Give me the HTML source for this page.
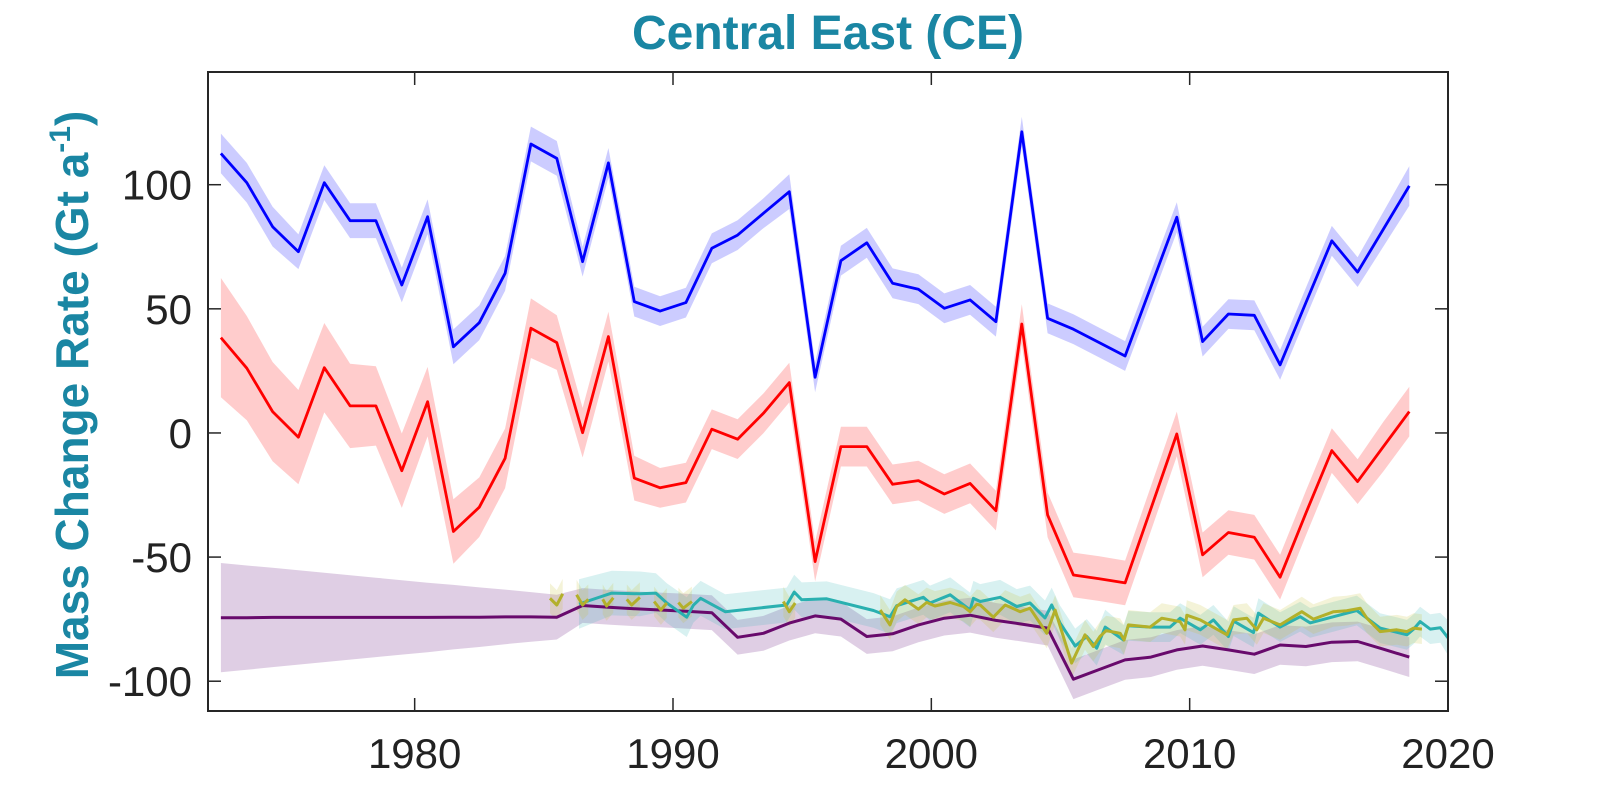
<!DOCTYPE html>
<html><head><meta charset="utf-8">
<style>
html,body{margin:0;padding:0;background:#fff;}
svg{display:block;font-family:"Liberation Sans",Arial,sans-serif;}
</style></head>
<body>
<svg id="chart" width="1600" height="800" viewBox="0 0 1600 800" xmlns="http://www.w3.org/2000/svg">
<rect x="0" y="0" width="1600" height="800" fill="#fff"/>
<text x="828" y="49" text-anchor="middle" font-size="48" font-weight="bold" fill="#1a86a3">Central East (CE)</text>
<text transform="translate(88,395) rotate(-90)" text-anchor="middle" font-size="46" font-weight="bold" fill="#1a86a3">Mass Change Rate (Gt a<tspan font-size="30" dy="-18">-1</tspan><tspan dy="18">)</tspan></text>
<g id="plot"></g>
<g id="axes"></g>
</svg>
<script>
const xTicks = [1980, 1990, 2000, 2010, 2020];
const yTicks = [100, 50, 0, -50, -100];
const annualYears = [1972.5,1973.5,1974.5,1975.5,1976.5,1977.5,1978.5,1979.5,1980.5,1981.5,1982.5,1983.5,1984.5,1985.5,1986.5,1987.5,1988.5,1989.5,1990.5,1991.5,1992.5,1993.5,1994.5,1995.5,1996.5,1997.5,1998.5,1999.5,2000.5,2001.5,2002.5,2003.5,2004.5,2005.5,2006.5,2007.5,2008.5,2009.5,2010.5,2011.5,2012.5,2013.5,2014.5,2015.5,2016.5,2017.5,2018.5];
const blueValues = [112.6,100.8,83.1,73.0,100.8,85.5,85.5,59.6,87.1,34.7,44.4,64.3,116.4,110.6,69.0,108.8,52.9,49.1,52.5,74.4,79.7,88.5,97.2,22.4,69.4,76.6,60.3,57.9,50.2,53.6,44.8,121.3,46.2,41.8,36.4,31.0,58.9,86.9,36.8,47.9,47.4,27.4,52.5,77.4,64.8,82.1,99.5];
const blueErr = [8,8,8,7,7,7,7,7,7,7,7,7,7,7,6,6,6,6,6,6,6,6,7,6,6,6,6,6,6,6,6,6,6,6,6,6,6,6,6,6,6,6,6,6,6,7,8];
const redValues = [38.4,26.1,8.6,-1.7,26.3,10.9,10.9,-15.2,12.6,-39.7,-29.9,-10.2,42.2,36.4,0.1,38.8,-18.2,-22.1,-20.0,1.5,-2.5,7.9,20.3,-51.8,-5.5,-5.5,-20.7,-19.2,-24.6,-20.3,-31.3,43.9,-33.0,-57.2,-58.7,-60.4,-30.5,-0.4,-49.1,-40.1,-42.0,-58.1,-32.3,-7.1,-19.6,-5.5,8.6];
const redErr = [24,21,20,19,18,17,16,15,14,13,12,12,12,11,10,10,9,8,8,8,8,8,8,8,8,8,8,8,8,8,8,8,9,9,9,9,9,9,9,9,9,9,9,9,9,10,10];
const purpleValues = [-74.4,-74.4,-74.3,-74.3,-74.3,-74.3,-74.3,-74.3,-74.3,-74.2,-74.2,-74.1,-74.1,-74.2,-69.5,-70.2,-70.8,-71.3,-71.8,-72.4,-82.3,-80.7,-76.6,-73.7,-75.0,-82.0,-80.9,-77.3,-74.6,-73.4,-75.5,-77.0,-78.6,-99.2,-95.3,-91.4,-90.3,-87.4,-85.8,-87.4,-89.1,-85.4,-86.0,-84.3,-84.0,-87.1,-90.3];
const purpleErr = [22,21,20,19,18,17,16,15,14,13,12,11,10,9,7,7,7,7,7,7,7,7,7,7,7,7,7,7,7,7,7,7,7,8,8,8,8,8,8,8,8,8,8,8,8,8,8];
const cyanYears = [1986.36,1987.63,1988.72,1989.34,1989.76,1990.53,1990.79,1991.07,1992.02,1994.40,1994.69,1994.98,1995.95,1997.76,1998.40,1998.66,1999.69,1999.95,2000.73,2001.50,2001.63,2001.89,2002.66,2003.31,2003.82,2004.40,2004.66,2004.98,2005.57,2006.02,2006.40,2006.73,2007.44,2007.63,2008.47,2009.24,2009.63,2010.41,2010.92,2011.50,2011.70,2012.47,2012.66,2013.50,2014.28,2014.66,2015.57,2016.47,2017.37,2018.41,2018.67,2018.92,2019.31,2019.70,2020.0];
const cyanValues = [-68.9,-64.5,-64.8,-64.5,-68.5,-74.2,-69.4,-66.6,-72,-69.3,-64.1,-67.2,-66.8,-71.5,-74.0,-69.6,-66.2,-68.5,-65.2,-71.3,-66.6,-67.9,-66.2,-69.9,-68.5,-74.5,-69.3,-76.5,-85.8,-82,-86.7,-78.2,-83.4,-77.7,-78.2,-78.2,-74.6,-79.3,-75.3,-82,-75.8,-80.4,-72.6,-78.2,-74,-76.5,-74,-71.5,-78.6,-81.3,-79,-76,-79,-78.5,-82.5];
const cyanErr = [10,9,9,8,8,8,7,7,7,7,7,7,7,7,7,7,7,7,7,7,7,7,7,7,7,7,7,7,7,7,7,7,6,6,6,6,6,6,6,6,6,6,6,6,6,6,6,6,6,6,6,6,6,6,7];
const yellowYears = [1985.24,1985.50,1985.73,null,1986.27,1986.50,1986.72,null,1987.28,1987.43,1987.69,null,1988.21,1988.40,1988.72,null,1989.27,1989.53,1989.76,null,1990.21,1990.40,1990.73,null,1994.27,1994.50,1994.73,null,1998.02,1998.40,1998.66,1998.98,1999.50,1999.82,2000.14,2000.73,2001.24,2001.50,2001.76,2001.89,2002.40,2002.86,2003.44,2003.82,2004.47,2004.79,2005.43,2005.95,2006.27,2006.53,2006.77,2007.31,2007.46,2007.63,2008.47,2008.92,2009.63,2009.82,2009.89,2010.41,2011.44,2011.70,2012.21,2012.60,2012.86,2013.50,2014.02,2014.34,2014.79,2015.57,2016.08,2016.60,2016.86,2017.37,2018.02,2018.41,2018.67,2018.99];
const yellowValues = [-66.6,-69.3,-64.8,null,-65.2,-69.3,-67,null,-67,-69.7,-66.4,null,-67,-69.3,-66.2,null,-67.9,-71.3,-68.5,null,-68.3,-70.6,-67.9,null,-67.9,-72,-68.5,null,-71.3,-77.3,-69.9,-67.2,-71,-68.3,-69.7,-68.3,-69.9,-72,-69,-69.3,-74.2,-69.3,-72,-70.6,-80.7,-71.3,-92.7,-81.3,-86,-82,-79.6,-80.7,-83.4,-77.3,-78.2,-74.6,-76,-79.3,-73.4,-75.3,-81.3,-75.3,-74.6,-79.3,-74.6,-77.3,-74,-72,-75,-72,-71.6,-70.6,-74.6,-80,-79.3,-80,-78.6,-79];
const yellowErrHalf = [6];

const X0 = 208, X1 = 1448, Y0 = 72, Y1 = 711;
const XMIN = 1972, XMAX = 2020, YMIN = -112, YMAX = 145.4;
function xs(v){ return X0 + (v - XMIN) * (X1 - X0) / (XMAX - XMIN); }
function ys(v){ return Y1 - (v - YMIN) * (Y1 - Y0) / (YMAX - YMIN); }
const NS = "http://www.w3.org/2000/svg";
const plot = document.getElementById('plot');
const axes = document.getElementById('axes');

function segments(xv, yv, ev){
  const segs = []; let cur = [];
  for (let i = 0; i < xv.length; i++){
    if (xv[i] === null || yv[i] === null){ if (cur.length) segs.push(cur); cur = []; continue; }
    cur.push([xv[i], yv[i], Array.isArray(ev) ? (ev.length === 1 ? ev[0] : ev[i]) : ev]);
  }
  if (cur.length) segs.push(cur);
  return segs;
}
function drawBand(xv, yv, ev, fill, name){
  segments(xv, yv, ev).forEach(seg => {
    const up = seg.map(p => xs(p[0]).toFixed(1) + ',' + ys(p[1] + p[2]).toFixed(1));
    const lo = seg.slice().reverse().map(p => xs(p[0]).toFixed(1) + ',' + ys(p[1] - p[2]).toFixed(1));
    const pg = document.createElementNS(NS, 'polygon');
    pg.setAttribute('points', up.concat(lo).join(' '));
    pg.setAttribute('fill', fill);
    pg.setAttribute('stroke', 'none');
    
    
    plot.appendChild(pg);
  });
}
function drawLine(xv, yv, color, w, name){
  segments(xv, yv, 0).forEach(seg => {
    const pl = document.createElementNS(NS, 'polyline');
    pl.setAttribute('points', seg.map(p => xs(p[0]).toFixed(1) + ',' + ys(p[1]).toFixed(1)).join(' '));
    pl.setAttribute('fill', 'none');
    pl.setAttribute('stroke', color);
    pl.setAttribute('stroke-width', w);
    pl.setAttribute('stroke-linejoin', 'round');
    
    
    plot.appendChild(pl);
  });
}
drawBand(annualYears, blueValues, blueErr, 'rgba(0,0,255,0.2)', 'blue-uncertainty-band');
drawLine(annualYears, blueValues, '#0000ff', 2.8, 'blue-series-line');
drawBand(annualYears, redValues, redErr, 'rgba(255,0,0,0.2)', 'red-uncertainty-band');
drawLine(annualYears, redValues, '#ff0000', 2.8, 'red-series-line');
drawBand(annualYears, purpleValues, purpleErr, 'rgba(110,30,130,0.22)', 'purple-uncertainty-band');
drawBand(cyanYears, cyanValues, cyanErr, 'rgba(60,185,185,0.2)', 'cyan-uncertainty-band');
drawBand(yellowYears, yellowValues, yellowErrHalf, 'rgba(200,195,60,0.2)', 'yellow-uncertainty-band');
drawLine(annualYears, purpleValues, '#680a6c', 3, 'purple-series-line');
drawLine(cyanYears, cyanValues, '#2ab0b0', 3, 'cyan-series-line');
drawLine(yellowYears, yellowValues, '#b3b02a', 3, 'yellow-series-line');

const box = document.createElementNS(NS, 'rect');
box.setAttribute('x', X0); box.setAttribute('y', Y0);
box.setAttribute('width', X1 - X0); box.setAttribute('height', Y1 - Y0);
box.setAttribute('fill', 'none'); box.setAttribute('stroke', '#262626'); box.setAttribute('stroke-width', '2');


axes.appendChild(box);
const TL = 13;
xTicks.forEach(t => {
  const x = xs(t);
  [[Y1, Y1 - TL], [Y0, Y0 + TL]].forEach(pr => {
    const ln = document.createElementNS(NS, 'line');
    ln.setAttribute('x1', x); ln.setAttribute('x2', x); ln.setAttribute('y1', pr[0]); ln.setAttribute('y2', pr[1]);
    ln.setAttribute('stroke', '#262626'); ln.setAttribute('stroke-width', '1.5');
    
    
    axes.appendChild(ln);
  });
  const tx = document.createElementNS(NS, 'text');
  tx.setAttribute('x', x); tx.setAttribute('y', 768);
  tx.setAttribute('text-anchor', 'middle'); tx.setAttribute('font-size', '42'); tx.setAttribute('fill', '#222');
  tx.textContent = t;
  
  
  axes.appendChild(tx);
});
yTicks.forEach(t => {
  const y = ys(t);
  [[X0, X0 + TL], [X1, X1 - TL]].forEach(pr => {
    const ln = document.createElementNS(NS, 'line');
    ln.setAttribute('x1', pr[0]); ln.setAttribute('x2', pr[1]); ln.setAttribute('y1', y); ln.setAttribute('y2', y);
    ln.setAttribute('stroke', '#262626'); ln.setAttribute('stroke-width', '1.5');
    
    
    axes.appendChild(ln);
  });
  const tx = document.createElementNS(NS, 'text');
  tx.setAttribute('x', 192); tx.setAttribute('y', y + 15);
  tx.setAttribute('text-anchor', 'end'); tx.setAttribute('font-size', '42'); tx.setAttribute('fill', '#222');
  tx.textContent = t;
  
  
  axes.appendChild(tx);
});
</script>
</body></html>
